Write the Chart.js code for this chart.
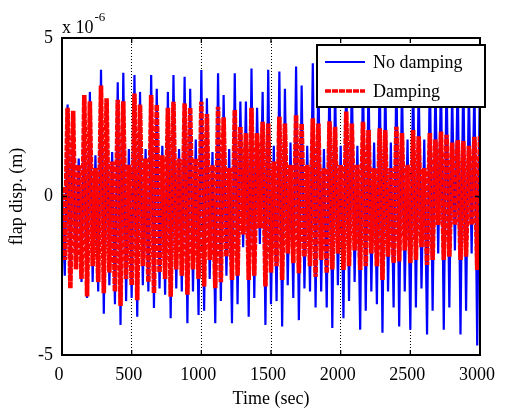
<!DOCTYPE html>
<html><head><meta charset="utf-8">
<script src="https://cdn.jsdelivr.net/npm/chart.js@4"></script>
<style>html,body{margin:0;padding:0;background:#fff;}#wrap{width:507px;height:410px;position:relative;}</style>
</head><body><div id="wrap"><canvas id="c" width="507" height="410"></canvas></div>
<script>
// time samples (sec)
const timeSec = [0,20,40,60,80,100,120,140,160,180,200,220,240,260,280,300,320,340,360,380,400,420,440,460,480,500,520,540,560,580,600,620,640,660,680,700,720,740,760,780,800,820,840,860,880,900,920,940,960,980,1000,1020,1040,1060,1080,1100,1120,1140,1160,1180,1200,1220,1240,1260,1280,1300,1320,1340,1360,1380,1400,1420,1440,1460,1480,1500,1520,1540,1560,1580,1600,1620,1640,1660,1680,1700,1720,1740,1760,1780,1800,1820,1840,1860,1880,1900,1920,1940,1960,1980,2000,2020,2040,2060,2080,2100,2120,2140,2160,2180,2200,2220,2240,2260,2280,2300,2320,2340,2360,2380,2400,2420,2440,2460,2480,2500,2520,2540,2560,2580,2600,2620,2640,2660,2680,2700,2720,2740,2760,2780,2800,2820,2840,2860,2880,2900,2920,2940,2960,2980,3000];
// flap displacement, units of 1e-6 m
const noDamping = [0.3,-2.5,2.9,-2.6,2.6,-2.2,1.2,-2.7,3.0,-3.2,3.3,-2.7,1.3,-3.0,4.0,-3.7,3.0,-2.8,1.4,-3.4,3.6,-4.05,3.9,-3.3,1.5,-3.2,3.83,-3.79,3.3,-2.8,1.5,-3.0,3.83,-3.52,3.4,-2.9,1.6,-3.1,3.3,-3.84,3.83,-2.9,1.5,-3.0,3.78,-4.0,3.4,-3.0,1.8,-3.74,3.99,-3.6,3.1,-2.6,1.4,-4.0,3.89,-3.3,3.2,-2.5,1.5,-4.0,3.89,-3.4,3.0,-1.6,3.0,-3.79,4.04,-3.2,2.8,-1.5,3.3,-4.05,4.0,-3.4,1.6,-3.3,3.94,-4.1,3.4,-2.8,1.7,-3.2,4.1,-3.9,3.5,-2.9,1.6,-3.0,4.2,-3.5,3.9,-3.0,1.5,-3.5,4.0,-4.15,3.6,-2.8,1.6,-3.84,4.1,-3.3,3.8,-2.7,1.6,-4.2,4.0,-3.6,3.7,-3.0,1.7,-3.4,4.1,-4.3,3.8,-3.0,1.7,-3.5,4.0,-4.1,3.7,-3.0,1.8,-4.2,4.0,-3.5,3.6,-2.9,1.8,-4.35,4.1,-3.6,3.6,-1.8,3.8,-4.2,4.0,-3.5,3.3,-1.7,3.9,-4.35,4.1,-3.6,3.4,-1.8,3.6,-4.7,4.2];
const damping = [0.3,-2.0,2.8,-2.9,2.7,-2.3,1.0,-2.6,3.2,-3.15,3.0,-2.2,0.9,-2.7,3.5,-3.05,3.1,-2.4,1.1,-3.0,3.05,-3.45,3.0,-2.6,1.0,-2.8,3.25,-3.27,2.9,-2.2,1.2,-2.7,3.2,-3.05,2.9,-2.4,1.3,-2.6,2.8,-3.16,2.99,-2.3,1.2,-2.5,2.94,-3.1,2.8,-2.3,1.2,-2.6,2.99,-2.84,2.6,-2.0,1.0,-2.89,2.83,-2.7,2.5,-1.9,0.9,-2.63,2.73,-2.5,2.2,-1.2,2.0,-2.63,2.8,-2.5,2.0,-1.0,2.36,-2.84,2.3,-2.4,1.1,-2.2,2.52,-2.63,2.3,-1.8,1.0,-2.1,2.57,-2.42,2.3,-1.9,1.0,-2.2,2.47,-2.53,2.3,-2.0,0.9,-2.42,2.37,-2.3,2.2,-1.8,1.0,-2.32,2.68,-2.2,2.3,-1.7,1.0,-2.32,2.36,-2.2,2.1,-1.8,0.9,-2.2,2.15,-2.63,2.1,-1.9,0.9,-2.1,2.2,-2.05,2.0,-1.7,1.0,-2.1,2.1,-2.0,1.9,-1.6,0.9,-2.16,2.0,-2.0,1.8,-0.9,2.05,-2.0,1.95,-1.9,1.7,-0.9,1.78,-2.0,1.75,-1.9,1.6,-0.9,1.88,-2.32,1.9];
const seriesNames = ['No damping','Damping'];
const xTickValues = [0,500,1000,1500,2000,2500,3000];
const yTickValues = [-5,0,5];
const xTitle = 'Time (sec)';
const yTitle = 'flap disp. (m)';
const expBase = 'x 10', expPower = '-6';

const FONT = "'Liberation Serif','Times New Roman',serif";

const overlay = {
  id: 'overlay',
  afterDatasetsDraw(chart) {
    const {ctx, chartArea: a, scales: {x, y}} = chart;
    ctx.save();
    ctx.setLineDash([]);
    ctx.strokeStyle = '#000';
    ctx.lineWidth = 1.3;
    ctx.beginPath();
    xTickValues.forEach(v => {
      const px = x.getPixelForValue(v);
      ctx.moveTo(px, a.bottom); ctx.lineTo(px, a.bottom - 5);
      ctx.moveTo(px, a.top); ctx.lineTo(px, a.top + 5);
    });
    yTickValues.forEach(v => {
      const py = y.getPixelForValue(v);
      ctx.moveTo(a.left, py); ctx.lineTo(a.left + 5, py);
      ctx.moveTo(a.right, py); ctx.lineTo(a.right - 5, py);
    });
    ctx.stroke();
    ctx.lineWidth = 2;
    ctx.strokeRect(a.left, a.top, a.right - a.left, a.bottom - a.top);

    // legend box
    const lx = 317, ly = 45, lw = 168, lh = 62;
    ctx.fillStyle = '#fff';
    ctx.fillRect(lx, ly, lw, lh);
    ctx.lineWidth = 2;
    ctx.strokeStyle = '#000';
    ctx.strokeRect(lx, ly, lw, lh);
    const ds = chart.data.datasets;
    const rows = [62, 91];
    ds.forEach((d, i) => {
      ctx.save();
      ctx.strokeStyle = d.borderColor;
      ctx.lineWidth = Math.min(d.borderWidth, 3.5);
      ctx.setLineDash(d.borderDash || []);
      ctx.beginPath();
      ctx.moveTo(325, rows[i]); ctx.lineTo(365, rows[i]);
      ctx.stroke();
      ctx.restore();
      ctx.fillStyle = '#000';
      ctx.font = '18px ' + FONT;
      ctx.textBaseline = 'middle';
      ctx.textAlign = 'left';
      ctx.fillText(d.label, 373, rows[i] + 1);
    });

    // exponent label
    ctx.fillStyle = '#000';
    ctx.textBaseline = 'alphabetic';
    ctx.font = '18px ' + FONT;
    ctx.fillText(expBase, 62, 33);
    const w = ctx.measureText(expBase).width;
    ctx.font = '13px ' + FONT;
    ctx.fillText(expPower, 62 + w + 1, 21);
    ctx.restore();
  }
};

new Chart(document.getElementById('c'), {
  type: 'line',
  data: {
    datasets: [
      { label: seriesNames[0], data: timeSec.map((t, i) => ({x: t, y: noDamping[i]})), order: 2,
        borderColor: '#0000ff', borderWidth: 2.2, pointRadius: 0, tension: 0, fill: false, clip: 0 },
      { label: seriesNames[1], data: timeSec.map((t, i) => ({x: t, y: damping[i]})), order: 1,
        borderColor: '#ff0000', borderWidth: 4.6, borderDash: [6, 1], pointRadius: 0, tension: 0, fill: false, clip: 0 }
    ]
  },
  options: {
    responsive: false,
    animation: false,
    events: [],
    layout: { padding: { left: 0, right: 15, top: 38, bottom: 0 } },
    plugins: { legend: { display: false }, tooltip: { enabled: false } },
    scales: {
      x: {
        type: 'linear', min: 0, max: 3000,
        afterBuildTicks: s => { s.ticks = xTickValues.map(v => ({value: v})); },
        afterFit: s => { s.height = 55; },
        ticks: { color: '#000', font: { family: FONT, size: 18 }, padding: 9, labelOffset: -3, maxRotation: 0, autoSkip: false, callback: v => String(v) },
        grid: { display: true, drawTicks: false, color: '#000', lineWidth: 1 },
        border: { display: false, dash: [1, 2] },
        title: { display: true, text: xTitle, color: '#000', font: { family: FONT, size: 18 }, padding: { top: 0, bottom: 0 } }
      },
      y: {
        type: 'linear', min: -5, max: 5,
        afterBuildTicks: s => { s.ticks = yTickValues.map(v => ({value: v})); },
        afterFit: s => { s.width = 62; },
        ticks: { color: '#000', font: { family: FONT, size: 18 }, padding: 9, callback: v => String(v) },
        grid: { display: false, drawTicks: false },
        border: { display: false },
        title: { display: true, text: yTitle, color: '#000', font: { family: FONT, size: 18 }, padding: { top: 6, bottom: 0 } }
      }
    }
  },
  plugins: [overlay]
});
</script>
</body></html>
